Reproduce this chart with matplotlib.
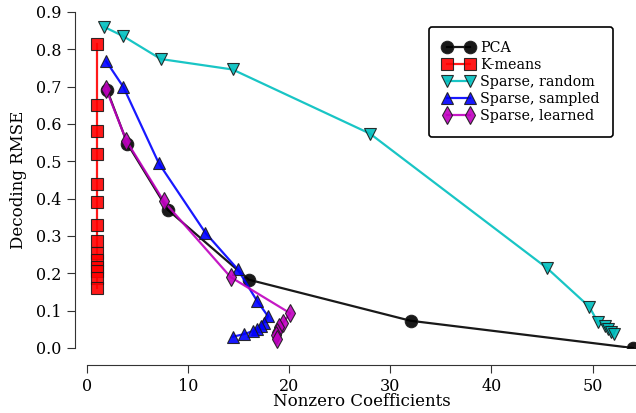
import numpy as np
import matplotlib
matplotlib.use("Agg")
import matplotlib.pyplot as plt

plt.rcParams['font.family'] = ['DejaVu Serif']

## Data

pca_x = [2, 4, 8, 16, 32, 54]
pca_y = [0.69, 0.547, 0.37, 0.183, 0.073, 0.0]

km_x = [1] * 14
km_y = [0.815, 0.651, 0.58, 0.519, 0.44, 0.391, 0.33, 0.286, 0.254, 0.235,
        0.218, 0.205, 0.188, 0.16]

rnd_x = [1.7, 3.6, 7.3, 14.4, 28.0, 45.5, 49.7, 50.5, 51.2, 51.5, 51.8, 52.1]
rnd_y = [0.86, 0.835, 0.774, 0.746, 0.574, 0.214, 0.11, 0.07, 0.058, 0.05,
         0.044, 0.038]

smp_x = [1.9, 3.6, 7.1, 11.7, 14.9, 16.8, 17.9, 17.5, 17.2, 16.8, 16.4, 15.5, 14.4]
smp_y = [0.768, 0.699, 0.495, 0.309, 0.211, 0.127, 0.085, 0.068, 0.06, 0.052,
         0.045, 0.037, 0.03]

lrn_x = [1.9, 3.9, 7.6, 14.2, 20.1, 19.4, 19.0, 18.8, 18.7, 18.8]
lrn_y = [0.693, 0.555, 0.393, 0.19, 0.093, 0.068, 0.056, 0.044, 0.035, 0.024]

fig = plt.figure(figsize=(6.36, 4.13), dpi=100)
W, H = 636., 413.
ax = fig.add_axes([87/W, 1 - 348/H, (636-87)/W, (348-12)/H])

kw = dict(markeredgecolor=(0.1, 0.1, 0.1), markeredgewidth=0.8, lw=1.6, alpha=0.9)
ax.plot(pca_x, pca_y, 'k-o', ms=9, label='PCA', **kw)
ax.plot(km_x, km_y, 'r-s', ms=8, label='K-means', **kw)
ax.plot(rnd_x, rnd_y, 'c-v', ms=9, label='Sparse, random', **kw)
ax.plot(smp_x, smp_y, 'b-^', ms=9, label='Sparse, sampled', **kw)
ax.plot(lrn_x, lrn_y, 'm-d', ms=9, label='Sparse, learned', **kw)

ax.set_xlim(0, 54.3)
ax.set_ylim(0, 0.9)
ax.set_xticks([0, 10, 20, 30, 40, 50])
ax.set_yticks(np.arange(0, 0.95, 0.1))
ax.set_yticklabels(['%.1f' % v for v in np.arange(0, 0.95, 0.1)])

for s in ['top', 'right']:
    ax.spines[s].set_visible(False)
ax.spines['left'].set_position(('outward', 9))
ax.spines['bottom'].set_position(('outward', 12))
for s in ['left', 'bottom']:
    ax.spines[s].set_color('#333333')
ax.tick_params(direction='out', length=6, color='#333333', labelsize=11.5)

ax.set_xlabel('Nonzero Coefficients', fontsize=12, labelpad=-1)
ax.set_ylabel('Decoding RMSE', fontsize=12, labelpad=6)

leg = ax.legend(loc='upper right', bbox_to_anchor=(613/W, 1 - 27/H),
                bbox_transform=fig.transFigure, numpoints=2, fontsize=10.3,
                handlelength=2.2, handletextpad=0.4, labelspacing=0.22,
                borderpad=0.95, borderaxespad=0, fancybox=True, framealpha=1)
leg.get_frame().set_edgecolor('black')
leg.get_frame().set_linewidth(1.2)

fig.savefig('out.png', dpi=100)
